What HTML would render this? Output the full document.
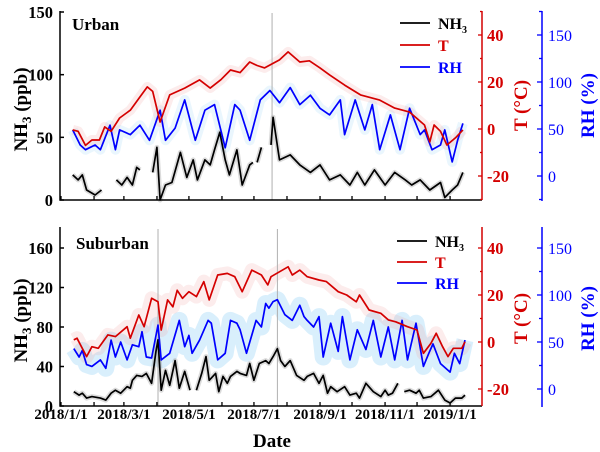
<!DOCTYPE html>
<html><head><meta charset="utf-8"><style>
html,body{margin:0;padding:0;background:#fff;}
svg{display:block;font-family:"Liberation Serif",serif;font-weight:bold;}
</style></head><body>
<svg id="chart" width="600" height="452" viewBox="0 0 600 452" xmlns="http://www.w3.org/2000/svg"></svg>
<script>
// ---- Urban data ----
const urbanNH3Days=[11,16,20,24,32,38,0,52,57,62,67,71,74,0,86,90,93,98,104,112,118,124,128,135,140,144,149,154,158,165,170,177,180,0,184,188,0,197,199,205,215,224,234,243,252,262,271,278,285,294,304,313,323,329,337,346,356,360,367,372,377];
const urbanNH3=[20,16,20,8,4,8,null,16,12,18,12,26,24,null,22,42,0,12,14,38,18,32,16,32,28,40,54,32,20,40,12,28,30,null,30,42,null,44,66,32,36,28,22,28,16,20,12,22,12,24,12,22,16,12,16,8,14,2,8,12,22];
const urbanTDays=[11,16,23,29,36,41,47,55,65,74,81,86,93,102,116,130,140,150,159,168,177,184,191,205,213,224,233,243,252,266,281,299,313,327,341,346,350,356,362,370,377];
const urbanT=[-0.4,-1,-7,-4.7,-4.7,0.9,-1,4.7,8,13.6,17.9,16,3,14.5,17.4,20.9,17.4,21,25.1,24,28.5,27,26,29.4,32.8,28.5,29,26,23,18.7,14.5,12.3,8.9,7.2,1.7,-5.5,1.7,-1,-6.8,-3.8,-0.4];
const urbanRHDays=[11,18,23,32,37,46,51,55,65,74,83,93,98,107,116,126,135,144,154,163,168,177,187,196,205,215,224,234,243,252,262,266,276,285,292,299,309,318,327,337,341,348,356,360,367,372,377];
const urbanRH=[49,33,28,33,28,54,28,49,44,54,38,70,38,51,81,38,70,76,30,76,70,38,81,91,78,94,76,86,72,65,81,44,81,49,76,28,65,28,72,44,49,28,33,49,15,38,56];
const urbanSpikeDays=[198];
// ---- Suburban data ----
const subNH3Days=[12,17,20,24,29,37,42,47,51,56,62,65,67,71,76,80,85,89,91,94,98,102,107,111,116,121,124,127,132,136,139,145,148,152,156,159,165,168,174,177,181,186,192,195,199,203,206,210,215,221,228,231,237,242,246,250,253,259,266,271,277,280,286,293,300,304,307,311,316,319,322,327,333,336,340,347,354,360,365,370,376,379];
const subNH3=[14.5,11,13,8,9.5,8,6,13,16,13,19.5,18,26,31,30,33,23,55,67,16,36,21,46,18,35,16,null,16,33,50,26,33,14.5,30,23,30,35,33,31,43,26,43,46,43,50,58,46,40,46,31,26,30,33,23,31,13,19.5,14.5,19.5,11,13,8,23,14.5,9.5,16,11,13,23,null,14.5,16,13,16,8,9.5,16,6,3,8,8,11];
const subTDays=[12,15,24,29,35,44,51,62,65,73,78,85,91,94,100,105,109,114,120,127,134,139,147,156,163,170,179,188,194,197,213,217,224,231,242,249,260,268,277,280,289,300,307,314,325,334,340,347,352,358,363,368,376,379];
const subT=[0.9,1.6,-6.2,-2,-2.7,3,2.3,6.5,1.6,11.5,6.5,18.6,17.1,5.1,17.9,15,22,18.6,21.4,19.3,25.7,17.9,28.5,29.2,27.8,21.4,30.6,28.5,24.3,27.8,32,28.5,30.6,27.8,26.4,25.7,21.4,20,17.1,20,13.6,12.2,9.4,8.6,6.5,5.1,-4.8,-0.6,3.7,-2,-6.2,-2.7,-2.7,0.1];
const subRHDays=[12,17,20,24,29,37,42,47,51,56,62,67,73,76,80,85,91,94,102,111,116,120,123,130,138,141,147,154,159,165,168,174,183,188,192,195,199,203,210,217,224,228,231,237,242,246,253,260,264,271,278,286,293,300,307,313,320,325,333,340,345,349,356,365,369,374,379];
const subRH=[43,34,41,26,24,31,22,52,34,50,31,47,45,61,34,33,68,31,38,73,45,57,38,52,73,70,31,38,73,70,63,38,73,66,91,86,93,95,79,73,89,77,73,66,77,34,70,40,77,31,63,42,73,34,66,31,73,31,70,24,38,48,27,18,38,27,52];
const subSpikeDays=[91,203];
// ---- Axis ticks ----
const urbanNH3Ticks=[0,50,100,150];
const subNH3Ticks=[0,40,80,120,160];
const tTicks=[-20,0,20,40];
const rhTicks=[0,50,100,150];
const monthDays=[0,31,59,90,120,151,181,212,243,273,304,334,365];
const dateLabels=["2018/1/1","2018/3/1","2018/5/1","2018/7/1","2018/9/1","2018/11/1","2019/1/1"];
const dateLabelDays=[0,59,120,181,243,304,365];

const NS="http://www.w3.org/2000/svg";
const svg=document.getElementById('chart');
function mk(tag,attrs,parent){const e=document.createElementNS(NS,tag);for(const k in attrs)e.setAttribute(k,attrs[k]);(parent||svg).appendChild(e);return e;}
const xS=d=>61+d*1.066;

function pathFrom(days,vals,yf){let d='',pen=false;for(let i=0;i<vals.length;i++){if(vals[i]===null){pen=false;continue;}d+=(pen?'L':'M')+xS(days[i]).toFixed(1)+' '+yf(vals[i]).toFixed(1);pen=true;}return d;}

function drawPanel(p){
  const g=mk('g',{});
  
  
  const b1=mk('path',{d:pathFrom(p.rhDays,p.rh,p.yR),fill:'none',stroke:'#9fd6f7','stroke-width':p.rhBand,'stroke-opacity':p.rhBandOp,'stroke-linejoin':'round'},g);
  
  
  const b2=mk('path',{d:pathFrom(p.tDays,p.t,p.yT),fill:'none',stroke:'#f2a0a0','stroke-width':p.tBand,'stroke-opacity':0.2,'stroke-linejoin':'round'},g);
  
  
  const b3=mk('path',{d:pathFrom(p.nDays,p.n,p.yN),fill:'none',stroke:'#999','stroke-width':5,'stroke-opacity':0.35,'stroke-linejoin':'round'},g);
  
  
  p.spikes.forEach(d=>{const s=mk('line',{x1:xS(d),x2:xS(d),y1:p.top+2,y2:p.bottom,stroke:'#b0b0b0','stroke-width':1},g);
    
    });
  const l1=mk('path',{d:pathFrom(p.nDays,p.n,p.yN),fill:'none',stroke:'#000','stroke-width':1.7,'stroke-linejoin':'round'},g);
  
  
  const l3=mk('path',{d:pathFrom(p.rhDays,p.rh,p.yR),fill:'none',stroke:'#0000ff','stroke-width':1.7,'stroke-linejoin':'round'},g);
  
  
  const l2=mk('path',{d:pathFrom(p.tDays,p.t,p.yT),fill:'none',stroke:'#d40000','stroke-width':1.7,'stroke-linejoin':'round'},g);
  
  
  const ax=mk('path',{d:`M60 ${p.top}V${p.bottom}H482`,fill:'none',stroke:'#000','stroke-width':1.5},g);
  
  
  p.nTicks.forEach(v=>{const y=p.yN(v);mk('line',{x1:60,x2:64,y1:y,y2:y,stroke:'#000','stroke-width':1.5},g);
    const t=mk('text',{x:53,y:y+6,'text-anchor':'end','font-size':16.5,fill:'#000'},g);t.textContent=v;
    
    });
  monthDays.forEach(d=>{mk('line',{x1:xS(d),x2:xS(d),y1:p.bottom,y2:p.bottom-4,stroke:'#000','stroke-width':1.3},g);});
  const ra=mk('line',{x1:482,x2:482,y1:p.top,y2:p.bottom,stroke:'#d40000','stroke-width':1.5},g);
  
  
  for(let v=-30;v<=50;v+=10){const y=p.yT(v);if(y<p.top||y>p.bottom)continue;mk('line',{x1:v%20===0?478:480,x2:482,y1:y,y2:y,stroke:'#d40000','stroke-width':1.3},g);}
  tTicks.forEach(v=>{const t=mk('text',{x:487,y:p.yT(v)+6,'font-size':16.5,fill:'#d40000'},g);t.textContent=v;
    
    });
  const tt=mk('text',{transform:`translate(527 ${p.yT(10)}) rotate(-90)`,'text-anchor':'middle','font-size':19,fill:'#d40000'},g);tt.textContent='T (°C)';
  
  
  const ba=mk('line',{x1:542,x2:542,y1:p.top,y2:p.bottom+1,stroke:'#0000ff','stroke-width':1.5},g);
  
  
  for(let v=-25;v<=175;v+=25){const y=p.yR(v);if(y<p.top||y>p.bottom+1)continue;mk('line',{x1:v%50===0?537:539,x2:542,y1:y,y2:y,stroke:'#0000ff','stroke-width':1.3},g);}
  rhTicks.forEach(v=>{const t=mk('text',{x:548,y:p.yR(v)+6,'font-size':16,'font-weight':'normal',fill:'#0000ff'},g);t.textContent=v;
    
    });
  const rt=mk('text',{transform:`translate(594 ${p.yR(75)}) rotate(-90)`,'text-anchor':'middle','font-size':19,fill:'#0000ff'},g);rt.textContent='RH (%)';
  
  
  const yt=mk('text',{transform:`translate(27 ${(p.top+p.bottom)/2+4}) rotate(-90)`,'text-anchor':'middle','font-size':19,fill:'#000'},g);
  yt.innerHTML='NH<tspan font-size="13" dy="4">3</tspan><tspan dy="-4"> (ppb)</tspan>';
  
  
  const sl=mk('text',{x:p.labelX,y:p.labelY,'font-size':17,fill:'#000'},g);sl.textContent=p.label;
  
  
  const items=[['NH3','#000'],['T','#d40000'],['RH','#0000ff']];
  items.forEach((it,i)=>{const y=p.legY+i*p.legGap;
    const lg=mk('g',{},g);
    
    
    mk('line',{x1:p.legX,x2:p.legX+30,y1:y,y2:y,stroke:it[1],'stroke-width':1.7},lg);
    const t=mk('text',{x:p.legX+38,y:y+6,'font-size':16,fill:it[1]},lg);
    if(i===0)t.innerHTML='NH<tspan font-size="10" dy="4">3</tspan>';else t.textContent=it[0];});
}

drawPanel({name:'urban',top:11,bottom:200,
  yN:v=>200-v*1.2533,yT:t=>129-t*2.35,yR:r=>176-r*0.94,
  nDays:urbanNH3Days,n:urbanNH3,tDays:urbanTDays,t:urbanT,rhDays:urbanRHDays,rh:urbanRH,spikes:urbanSpikeDays,
  nTicks:urbanNH3Ticks,rhBand:10,rhBandOp:0.22,tBand:10,label:'Urban',labelX:72,labelY:30,legX:400,legY:23,legGap:22});
drawPanel({name:'suburban',top:227,bottom:406,
  yN:v=>406-v*0.9875,yT:t=>342-t*2.35,yR:r=>389-r*0.94,
  nDays:subNH3Days,n:subNH3,tDays:subTDays,t:subT,rhDays:subRHDays,rh:subRH,spikes:subSpikeDays,
  nTicks:subNH3Ticks,rhBand:17,rhBandOp:0.4,tBand:14,label:'Suburban',labelX:76,labelY:249,legX:397,legY:241,legGap:21});

dateLabels.forEach((s,i)=>{const t=mk('text',{x:xS(dateLabelDays[i]),y:419,'text-anchor':'middle','font-size':15,fill:'#000'});t.textContent=s;
  
  });
const dt=mk('text',{x:272,y:447,'text-anchor':'middle','font-size':19,fill:'#000'});dt.textContent='Date';


</script>
</body></html>
